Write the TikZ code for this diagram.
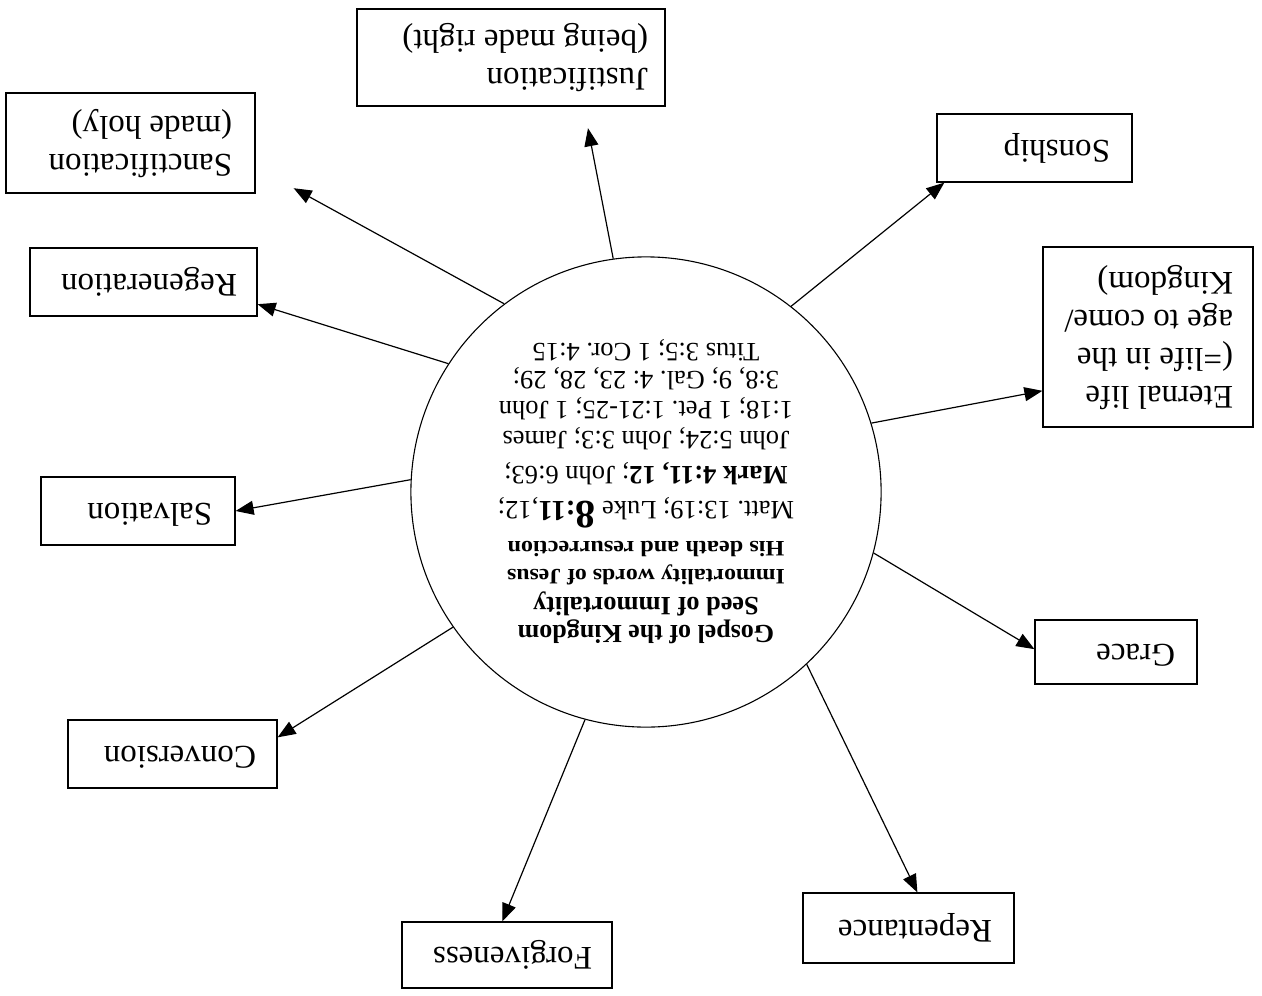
\documentclass[tikz,border=0pt]{standalone}
\usepackage{fontspec}
\setmainfont{Liberation Serif}
\usepackage{graphicx}
\usetikzlibrary{arrows.meta}
\frenchspacing
\newcommand{\btext}[2]{\rotatebox{180}{\makebox[#1][l]{\fontsize{16.5}{19}\selectfont\begin{tabular}{@{}l@{}}#2\end{tabular}}}}
\tikzset{
  box/.style={draw, line width=0.6pt, inner sep=0pt, rectangle},
  hub/.style={draw, circle, line width=0.55pt, inner sep=0pt, minimum size=234pt},
  arr/.style={-{Triangle[length=9pt,width=7pt]}, line width=0.6pt},
}
\begin{document}
\begin{tikzpicture}[x=0.5pt, y=-0.5pt]
\fill[white] (0,0) rectangle (1262,995);
\useasboundingbox (0,0) rectangle (1262,995);

% central circle
\node[hub] (c) at (646,492) {\rotatebox{180}{\parbox{180pt}{\centering\frenchspacing
  \fontsize{13.25}{14}\selectfont\lineskiplimit=-50pt\lineskip=0pt
  {\fontsize{13}{14}\selectfont\bfseries Gospel of the Kingdom}\\
  {\fontsize{13.2}{14}\selectfont\bfseries Seed of Immortality}\\
  \scalebox{1.08}[1]{\fontsize{11}{14}\selectfont\bfseries Immortality words of Jesus}\\
  \scalebox{1.1}[1]{\fontsize{11}{14}\selectfont\bfseries His death and resurrection}\\[6pt]
  Matt. 13:19; Luke {\fontsize{20}{14}\selectfont\bfseries 8}{\fontsize{14.5}{14}\selectfont\bfseries :11},12;\\[3.5pt]
  \textbf{Mark 4:11, 12}; John 6:63;\\[3.5pt]
  John 5:24; John 3:3; James\\[1pt]
  1:18; 1 Pet. 1:21-25; 1 John\\[1pt]
  3:8, 9; Gal. 4: 23, 28, 29;\\
  Titus 3:5; 1 Cor. 4:15\par}}};

% surrounding boxes
\node[box, minimum width=154pt, minimum height=48.5pt] (just) at (511,57.5) {\btext{137pt}{Justification\\(being made right)}};
\node[box, minimum width=124.5pt, minimum height=50pt] (sanct) at (130.5,143) {\btext{101.5pt}{Sanctification\\(made holy)}};
\node[box, minimum width=113.5pt, minimum height=34pt] (regen) at (143.5,282) {\btext{93.5pt}{Regeneration}};
\node[box, minimum width=97pt, minimum height=34pt] (salv) at (138,511) {\btext{74pt}{Salvation}};
\node[box, minimum width=104.5pt, minimum height=34pt] (conv) at (172.5,754) {\btext{83.5pt}{Conversion}};
\node[box, minimum width=105pt, minimum height=33pt] (forg) at (507,955) {\btext{85pt}{Forgiveness}};
\node[box, minimum width=105.5pt, minimum height=35pt] (rep) at (908.5,928) {\btext{83.5pt}{Repentance}};
\node[box, minimum width=81pt, minimum height=32pt] (grace) at (1116,652) {\btext{59pt}{Grace}};
\node[box, minimum width=97.5pt, minimum height=34pt] (son) at (1034.5,148) {\btext{75.5pt}{Sonship}};
\node[box, minimum width=105pt, minimum height=90pt] (eter) at (1148,337) {\btext{85pt}{Eternal life\\(=life in the\\age to come/\\Kingdom)}};

% connectors
\draw[arr, shorten >=11pt] (c.98.2) -- (just.326);
\draw[arr, shorten >=21.7pt] (c.127.5) -- (sanct.349.1);
\draw[arr] (c.147.7) -- (regen.349.6);
\draw[arr] (c.177.5) -- (salv.east);
\draw[arr] (c.215.9) -- (conv.9.2);
\draw[arr] (c.255.2) -- (forg.98.1);
\draw[arr] (c.313.8) -- (rep.76.3);
\draw[arr] (c.345.2) -- (grace.178.6);
\draw[arr] (c.52.3) -- (son.201.9);
\draw[arr] (c.17.8) -- (eter.207.8);
\end{tikzpicture}
\end{document}
